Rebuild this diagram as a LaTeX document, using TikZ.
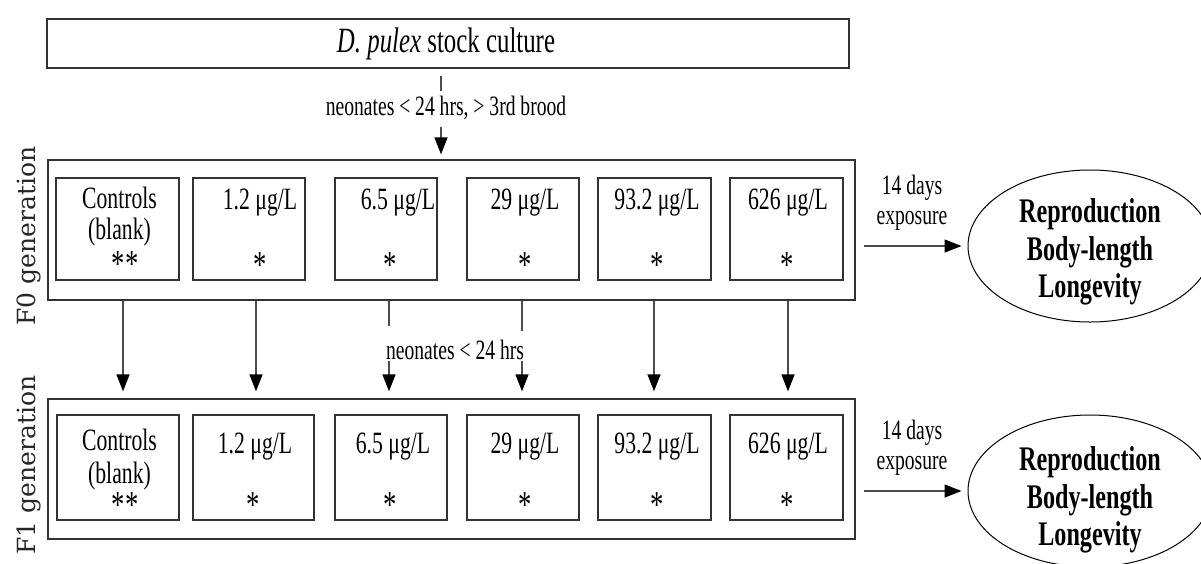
\documentclass[tikz,border=0pt]{standalone}
\usepackage{fontspec}
\setmainfont{Liberation Serif}[FakeStretch=0.70]
\newfontfamily\sidefont{DejaVu Serif}
\usetikzlibrary{arrows.meta,calc,shapes.geometric}
\begin{document}
\begin{tikzpicture}[x=1pt,y=-1pt,
  box/.style={draw=black!80, line width=1.3pt, inner sep=0pt},
  txt/.style={font=\fontsize{31}{33}\selectfont, inner sep=0pt},
  star/.style={font=\fontsize{38}{38}\selectfont, inner sep=0pt},
  lbl/.style={font=\fontsize{28}{30}\selectfont, inner sep=0pt, align=center},
  restxt/.style={font=\fontsize{34.5}{37.5}\selectfont\bfseries, inner sep=0pt, align=center},
  res/.style={draw=black, line width=1pt, ellipse, inner sep=0pt, minimum width=244pt, minimum height=152pt},
  conn/.style={draw=black!70, line width=1.4pt},
  arr/.style={conn, -{Triangle[width=13pt,length=17pt,fill=black,color=black]}},
  side/.style={font=\sidefont\fontsize{25}{25}\selectfont, rotate=90, text=black!85, inner sep=0pt}
]
\useasboundingbox (0,0) rectangle (1201,563);
\clip (0,0) rectangle (1201,563);

% top box
\node[box, minimum width=802pt, minimum height=49pt] (top) at (448,43.5) {};
\node[font=\fontsize{35.5}{37}\selectfont, inner sep=0pt] (toptxt) at (446,44) {\textit{D. pulex} stock culture};

% generation outer boxes
\node[box, minimum width=807pt, minimum height=140pt] (f0) at (451.5,230) {};
\node[box, minimum width=807pt, minimum height=140pt] (f1) at (451.5,469) {};

% side labels
\node[side] (s0) at (29,236) {F0 generation};
\node[side] (s1) at (29,465) {F1 generation};

% top connector
\coordinate (ta) at (441,76);
\coordinate (tb) at (441,91);
\coordinate (tc) at (441,127);
\node[lbl] (nl1) at (446,108) {neonates < 24 hrs, > 3rd brood};
\draw[conn] (ta) -- (tb);
\draw[arr, shorten >=5pt] (tc) -- (tc |- f0.north);

% F0 inner boxes
\foreach \i/\cx/\w in {1/117.5/123, 2/249/112, 3/386/102, 4/523/112, 5/654.5/113, 6/786.5/113}{
  \node[box, minimum width=\w pt, minimum height=102pt] (a\i) at (\cx,229) {};
}
\node[txt] (a1t1) at (119.5,198) {Controls};
\node[txt] (a1t2) at (119.5,232) {(blank)};
\node[star] (a1s) at (125,264) {**};
\node[txt] (a2t) at (260,203) {1.2 μg/L};
\node[star] (a2s) at (260,265) {*};
\node[txt] (a3t) at (398,203) {6.5 μg/L};
\node[star] (a3s) at (390,265) {*};
\node[txt] (a4t) at (525,203) {29 μg/L};
\node[star] (a4s) at (525,265) {*};
\node[txt] (a5t) at (657,203) {93.2 μg/L};
\node[star] (a5s) at (657,265) {*};
\node[txt] (a6t) at (788,203) {626 μg/L};
\node[star] (a6s) at (787,265) {*};

% F1 inner boxes
\foreach \i/\cx/\w in {1/118/122, 2/253.5/121, 3/391/112, 4/523/112, 5/654.5/113, 6/786.5/113}{
  \node[box, minimum width=\w pt, minimum height=105pt] (b\i) at (\cx,467.5) {};
}
\node[txt] (b1t1) at (119.5,440) {Controls};
\node[txt] (b1t2) at (119.5,476) {(blank)};
\node[star] (b1s) at (125,505) {**};
\node[txt] (b2t) at (255,447) {1.2 μg/L};
\node[star] (b2s) at (253,505) {*};
\node[txt] (b3t) at (393,447) {6.5 μg/L};
\node[star] (b3s) at (390,505) {*};
\node[txt] (b4t) at (525,447) {29 μg/L};
\node[star] (b4s) at (525,505) {*};
\node[txt] (b5t) at (657,447) {93.2 μg/L};
\node[star] (b5s) at (657,505) {*};
\node[txt] (b6t) at (788,447) {626 μg/L};
\node[star] (b6s) at (787,505) {*};

% vertical arrows
\foreach \j/\x in {1/123, 2/256, 5/654, 6/788}{
  \coordinate (v\j) at (\x,0);
  \draw[arr, shorten >=7pt] (v\j |- f0.south) -- (v\j |- f1.north);
}
\node[lbl] (nl2) at (455,350) {neonates < 24 hrs};
\coordinate (v3) at (389,0);
\coordinate (v4) at (522,0);
\draw[conn] (v3 |- f0.south) -- ++(0,25);
\draw[conn] (v4 |- f0.south) -- ++(0,30);
\draw[arr, shorten >=7pt] ($(v3 |- f1.north)+(0,-37)$) -- (v3 |- f1.north);
\draw[arr, shorten >=7pt] ($(v4 |- f1.north)+(0,-37)$) -- (v4 |- f1.north);

% results
\node[res] (e0) at (1090,246) {};
\node[restxt] (e0t) at (1090,252) {Reproduction\\Body-length\\Longevity};
\node[res] (e1) at (1090,491) {};
\node[restxt] (e1t) at (1090,500) {Reproduction\\Body-length\\Longevity};

\node[lbl] (x0) at (912,203) {14 days\\exposure};
\node[lbl] (x1) at (912,448) {14 days\\exposure};
\draw[arr, shorten <=8pt, shorten >=6pt] (f0.east |- e0.west) -- (e0.west);
\draw[arr, shorten <=8pt, shorten >=6pt] (f1.east |- e1.west) -- (e1.west);
\end{tikzpicture}
\end{document}
